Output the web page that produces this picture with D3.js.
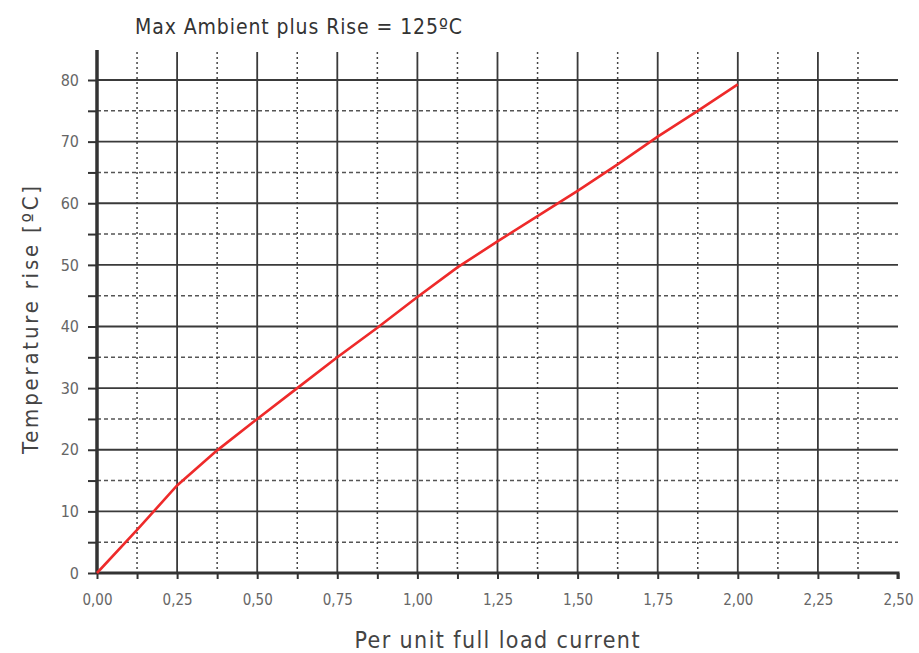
<!DOCTYPE html>
<html>
<head>
<meta charset="utf-8">
<script src="https://cdn.jsdelivr.net/npm/d3@7"></script>
<style>
  body { margin: 0; background: #fff; }
  text { font-family: "DejaVu Sans Condensed", "DejaVu Sans", sans-serif; }
</style>
</head>
<body>
<div id="container"></div>
<script>
/* DATA */
const current = [0, 0.125, 0.25, 0.375, 0.5, 0.625, 0.75, 0.875, 1.0, 1.125, 1.25, 1.375, 1.5, 1.625, 1.75, 1.875, 2.0];
const rise    = [0, 7, 14.2, 19.9, 25, 30, 35, 39.8, 44.8, 49.6, 53.8, 57.9, 62, 66.3, 70.8, 75, 79.3];
const xMajor = [0, 0.25, 0.5, 0.75, 1.0, 1.25, 1.5, 1.75, 2.0, 2.25, 2.5];
const xMinor = [0.125, 0.375, 0.625, 0.875, 1.125, 1.375, 1.625, 1.875, 2.125, 2.375];
const yMajor = [0, 10, 20, 30, 40, 50, 60, 70, 80];
const yMinor = [5, 15, 25, 35, 45, 55, 65, 75];

/* CONSTANTS */
const width = 919, height = 653;
const mLeft = 97, mRight = 898, mTop = 50, mBottom = 573;

const svg = d3.select("#container").append("svg")
  .attr("width", width)
  .attr("height", height);

/* SCALES */
const xScale = d3.scaleLinear().domain([0, 2.5]).range([mLeft, mRight]);
const yScale = d3.scaleLinear().domain([0, 80]).range([mBottom, 80]);

const grid = "#3a3a3a";

// minor horizontal (dashed)
svg.append("g").selectAll("line")
  .data(yMinor)
  .join("line")
  .attr("x1", mLeft).attr("x2", mRight)
  .attr("y1", d => yScale(d)).attr("y2", d => yScale(d))
  .attr("stroke", "#555").attr("stroke-width", 1.4)
  .attr("stroke-dasharray", "4,3");

// minor vertical (dotted)
svg.append("g").selectAll("line")
  .data(xMinor)
  .join("line")
  .attr("x1", d => xScale(d)).attr("x2", d => xScale(d))
  .attr("y1", mTop + 2).attr("y2", mBottom)
  .attr("stroke", "#444").attr("stroke-width", 1.5)
  .attr("stroke-dasharray", "2,3");

// major horizontal
svg.append("g").selectAll("line")
  .data(yMajor.filter(d => d > 0))
  .join("line")
  .attr("x1", mLeft).attr("x2", mRight)
  .attr("y1", d => yScale(d)).attr("y2", d => yScale(d))
  .attr("stroke", grid).attr("stroke-width", 1.8);

// major vertical
svg.append("g").selectAll("line")
  .data(xMajor.filter(d => d > 0 && d < 2.5))
  .join("line")
  .attr("x1", d => xScale(d)).attr("x2", d => xScale(d))
  .attr("y1", mTop + 2).attr("y2", mBottom)
  .attr("stroke", grid).attr("stroke-width", 1.8);

/* AXES */
const xAxis = d3.axisBottom(xScale)
  .tickValues(xMajor.concat(xMinor).sort((a, b) => a - b))
  .tickSize(6)
  .tickFormat(d => xMajor.includes(d) ? d.toFixed(2).replace(".", ",") : "");

const gx = svg.append("g")
  .attr("transform", `translate(0,${mBottom})`)
  .call(xAxis);
gx.select(".domain").attr("stroke", "#333").attr("stroke-width", 3).attr("d", `M${mLeft},0H${mRight}V6`);
gx.selectAll(".tick line").attr("stroke", "#333").attr("stroke-width", 2);
gx.selectAll(".tick text")
  .attr("y", 21)
  .attr("fill", "#666")
  .style("font-size", "15px");

const yAxis = d3.axisLeft(yScale)
  .tickValues(yMajor.concat(yMinor).sort((a, b) => a - b))
  .tickSize(9)
  .tickFormat(d => yMajor.includes(d) ? d : "");

const gy = svg.append("g")
  .attr("transform", `translate(${mLeft},0)`)
  .call(yAxis);
gy.select(".domain").attr("stroke", "#333").attr("stroke-width", 3.5).attr("d", `M0,${mBottom}V${mTop}`);
gy.selectAll(".tick line").attr("stroke", "#333").attr("stroke-width", 2);
gy.selectAll(".tick text")
  .attr("x", -18)
  .attr("fill", "#666")
  .style("font-size", "16px");

/* LINE */
const line = d3.line()
  .x((d, i) => xScale(current[i]))
  .y(d => yScale(d));

svg.append("path")
  .datum(rise)
  .attr("fill", "none")
  .attr("stroke", "#ee2a2a")
  .attr("stroke-width", 2.6)
  .attr("d", line);

/* TEXT */
svg.append("text")
  .attr("x", 135)
  .attr("y", 34)
  .attr("fill", "#333")
  .attr("textLength", 327)
  .attr("lengthAdjust", "spacing")
  .style("font-size", "21px")
  .text("Max Ambient plus Rise = 125ºC");

svg.append("text")
  .attr("transform", "rotate(-90)")
  .attr("x", -320)
  .attr("y", 38)
  .attr("text-anchor", "middle")
  .attr("fill", "#444")
  .attr("textLength", 268)
  .attr("lengthAdjust", "spacing")
  .style("font-size", "22px")
  .text("Temperature rise [ºC]");

svg.append("text")
  .attr("x", 497)
  .attr("y", 648)
  .attr("text-anchor", "middle")
  .attr("fill", "#444")
  .attr("textLength", 285)
  .attr("lengthAdjust", "spacing")
  .style("font-size", "23px")
  .text("Per unit full load current");
</script>
</body>
</html>
